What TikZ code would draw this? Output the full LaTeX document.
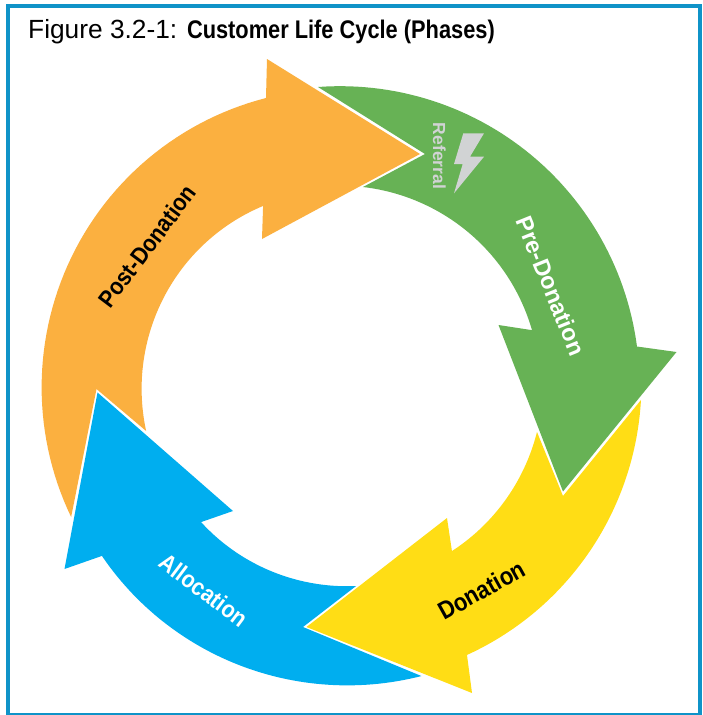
\documentclass[tikz,border=0pt]{standalone}
\usepackage{graphicx}
\usepackage{fontspec}
\setmainfont{Liberation Sans}
\definecolor{framec}{HTML}{0F93C8}
\definecolor{orangec}{HTML}{FBB040}
\definecolor{greenc}{HTML}{67B255}
\definecolor{yellowc}{HTML}{FFDD15}
\definecolor{bluec}{HTML}{00AEEF}
\definecolor{boltc}{HTML}{D1D3D4}
\newcommand\rarc[4]{plot[domain=#1:#2,samples=60] ({341+(#3+(#4-#3)*(\x-#1)/(#2-#1))*cos(\x)},{386+(#3+(#4-#3)*(\x-#1)/(#2-#1))*sin(\x)})}
\newcommand\lrarc[4]{-- plot[domain=#1:#2,samples=60] ({341+(#3+(#4-#3)*(\x-#1)/(#2-#1))*cos(\x)},{386+(#3+(#4-#3)*(\x-#1)/(#2-#1))*sin(\x)})}
\newcommand\narrowed[2]{\scalebox{#1}[1]{#2}}
\tikzset{
  phase/.style={font=\bfseries\fontsize{#1}{26}\selectfont,inner sep=0pt},
}
\begin{document}
\begin{tikzpicture}[x=1pt,y=1pt,yscale=-1]
\useasboundingbox (0,0) rectangle (703,715);
\fill[white] (0,0) rectangle (703,715);
\draw[framec,line width=4pt] (8,6) rectangle (700,715);
\fill[orangec] \rarc{154.1}{255.4}{300}{297.6} -- (267,59) -- (420,154) -- (262,239) \lrarc{246.6}{167}{196.2}{200} -- (96.5,389) -- cycle;
\fill[greenc] \rarc{265.6}{352.4}{299.9}{298.6} -- (676.5,352) -- (563,491.5) -- (498.5,325) \lrarc{343.7}{276.3}{199}{200.2} -- (425,154) -- cycle;
\fill[yellowc] \rarc{2.67}{64.9}{300.3}{297} -- (472,693) -- (306.5,627) -- (447,518) \lrarc{56.1}{13.2}{198.9}{201.3} -- (563,496) -- cycle;
\fill[bluec] \rarc{74.5}{144.6}{301}{293.3} -- (64.5,569) -- (97.5,392.5) -- (233,511) \lrarc{135.8}{85.7}{195.2}{200.6} -- (303,627) -- cycle;
\fill[boltc] (484,133.3) -- (463.3,133.3) -- (454,164) -- (462.7,164) -- (454,193.3) -- (484,156.7) -- (470,156.7) -- cycle;
\node[font=\bfseries\fontsize{17.5}{19}\selectfont,text=boltc,rotate=-90,inner sep=0pt] (referral) at (439.5,156) {Referral};
\node[phase=24,rotate=53,text=black] (post) at (147,246) {\narrowed{0.885}{Post-Donation}};
\node[phase=23.5,rotate=-68,text=white] (pre) at (551,286) {Pre-Donation};
\node[phase=25,rotate=29,text=black] (don) at (481.5,590) {\narrowed{0.88}{Donation}};
\node[phase=24,rotate=-37,text=white] (alloc) at (204,590) {\narrowed{0.89}{Allocation}};
\node[anchor=west,inner sep=0pt] (title) at (28,32) {\fontsize{26.3}{28}\selectfont Figure 3.2-1: \narrowed{0.855}{\fontsize{25.5}{28}\selectfont\bfseries Customer Life Cycle (Phases)}};
\end{tikzpicture}
\end{document}
